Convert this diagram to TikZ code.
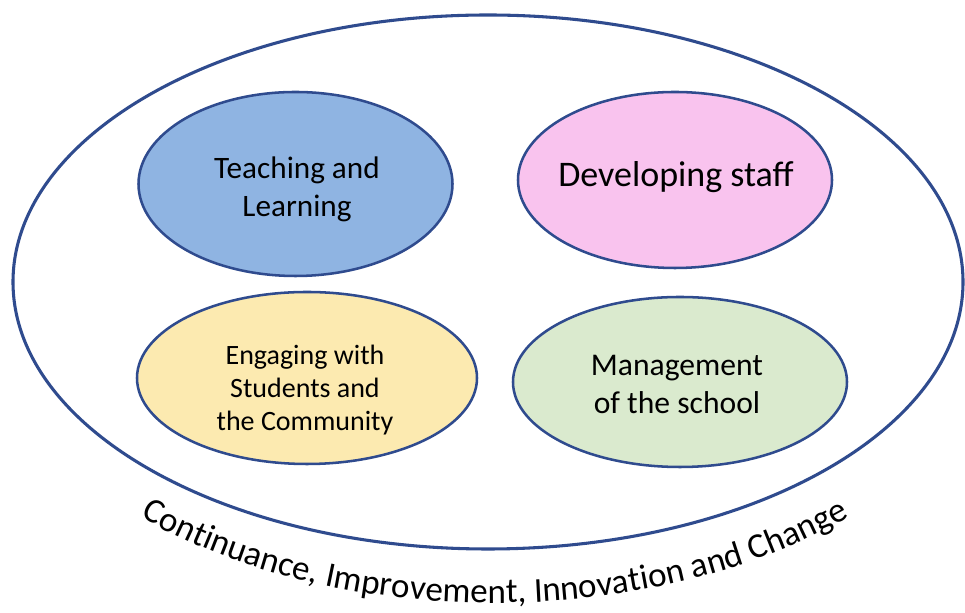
\documentclass[tikz,border=0pt]{standalone}
\usepackage{fontspec}
\setmainfont{Carlito}
\usetikzlibrary{shapes.geometric,decorations.text}
\definecolor{edgeblue}{HTML}{2F4B8E}
\definecolor{tlblue}{HTML}{8FB4E2}
\definecolor{dspink}{HTML}{F9C3EE}
\definecolor{engyellow}{HTML}{FCEAB0}
\definecolor{mgtgreen}{HTML}{DAEACE}
\begin{document}
\begin{tikzpicture}[x=0.75pt,y=0.75pt,
  bubble/.style={ellipse, draw=edgeblue, line width=1.9pt, inner sep=0pt},
  lbl/.style={align=center, inner sep=0pt, text=black}]
\useasboundingbox (0,0) rectangle (965,613);
\fill[white] (0,0) rectangle (965,613);
\node[ellipse, draw=edgeblue, line width=2.3pt, minimum width=712.5pt, minimum height=400.5pt] (outer) at (488,331) {};
\node[bubble, fill=tlblue, minimum width=235.5pt, minimum height=138pt] (tl) at (295.5,429) {};
\node[bubble, fill=dspink, minimum width=235.5pt, minimum height=132pt] (ds) at (675,433) {};
\node[bubble, fill=engyellow, minimum width=255pt, minimum height=129pt] (eng) at (307,235) {};
\node[bubble, fill=mgtgreen, minimum width=250.5pt, minimum height=127.5pt] (mgt) at (680,231) {};
\node[lbl, font=\fontsize{23.4pt}{28.5pt}\selectfont] (tlt) at (297,424) {Teaching and\\Learning};
\node[lbl, font=\fontsize{27pt}{32pt}\selectfont] (dst) at (676,436) {Developing staff};
\node[lbl, font=\fontsize{21pt}{24.75pt}\selectfont] (engt) at (305,223) {Engaging with\\Students and\\the Community};
\node[lbl, font=\fontsize{23.7pt}{28.5pt}\selectfont] (mgtt) at (677,229) {Management\\of the school};
\path[decorate, decoration={text along path, text align=center,
  text={|\fontsize{26.3pt}{31pt}\selectfont|Continuance, Improvement, Innovation and Change}}]
  (495,331) ++(218:520 and 321) arc[start angle=218, end angle=322, x radius=520, y radius=321];
\end{tikzpicture}
\end{document}
